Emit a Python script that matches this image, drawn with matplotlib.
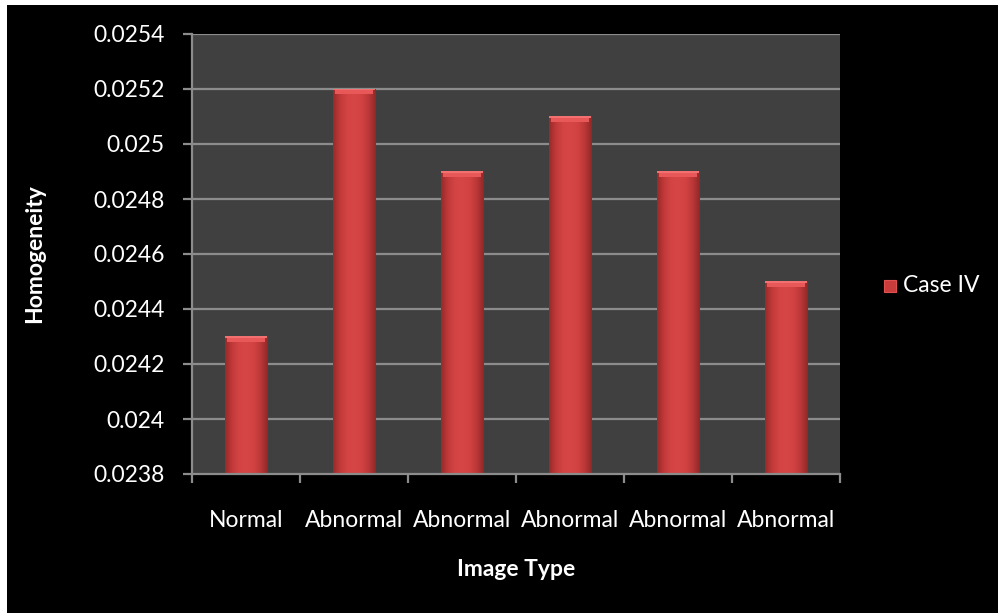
import matplotlib
matplotlib.use("Agg")
import matplotlib.pyplot as plt
import numpy as np
from matplotlib.patches import Rectangle
from matplotlib.colors import LinearSegmentedColormap

categories = ["Normal", "Abnormal", "Abnormal", "Abnormal", "Abnormal", "Abnormal"]
homogeneity = [0.0243, 0.0252, 0.0249, 0.0251, 0.0249, 0.0245]
y_ticks = [0.0238, 0.024, 0.0242, 0.0244, 0.0246, 0.0248, 0.025, 0.0252, 0.0254]
y_tick_labels = ["0.0238", "0.024", "0.0242", "0.0244", "0.0246", "0.0248", "0.025", "0.0252", "0.0254"]
series_name = "Case IV"

plt.rcParams["font.family"] = ["Lato", "DejaVu Sans"]
FS = 16.5

W, H = 998, 613
fig = plt.figure(figsize=(W / 100, H / 100), dpi=100, facecolor="white")
# black chart area with a thin white margin on the top and left
fig.patches.append(Rectangle((7 / W, 0), 1 - 7 / W, 1 - 5 / H, transform=fig.transFigure,
                             facecolor="black", edgecolor="none", zorder=-10))

left, right, top, bottom = 192, 840, 34, 474
ax = fig.add_axes([left / W, 1 - bottom / H, (right - left) / W, (bottom - top) / H])
ax.set_zorder(1)
ax.set_facecolor("#404040")

ymin, ymax = y_ticks[0], y_ticks[-1]
ax.set_ylim(ymin, ymax)
ax.set_xlim(-0.5, len(categories) - 0.5)

grid_c = "#8c8c8c"
for t in y_ticks[1:]:
    ax.axhline(t, color=grid_c, lw=1.6, zorder=1)

# bevelled red bars: horizontal shading, darker toward the sides
bar_w = 0.39
shade = LinearSegmentedColormap.from_list(
    "bar", ["#9a2a2a", "#c23a3a", "#d44444", "#d64646", "#d24242", "#bc3838", "#922828"])
grad = np.linspace(0, 1, 64).reshape(1, -1)
cap_h = (ymax - ymin) * 0.012
for i, v in enumerate(homogeneity):
    x0 = i - bar_w / 2
    ax.imshow(grad, cmap=shade, aspect="auto", extent=(x0, x0 + bar_w, ymin, v),
              zorder=2, interpolation="bilinear")
    ax.add_patch(Rectangle((x0 + bar_w * 0.06, v - cap_h), bar_w * 0.88, cap_h,
                           facecolor="#e85858", edgecolor="none", zorder=3))
    ax.add_patch(Rectangle((x0, v - cap_h * 0.25), bar_w, cap_h * 0.25,
                           facecolor="#f27070", edgecolor="none", zorder=3))

ax.set_yticks(y_ticks)
ax.set_yticklabels(y_tick_labels)
ax.set_xticks(range(len(categories)))
ax.set_xticklabels(categories)
ax.set_xticks(np.arange(-0.5, len(categories), 1.0), minor=True)
ax.tick_params(axis="x", which="major", length=0, pad=26, labelsize=FS, labelcolor="white")
ax.tick_params(axis="x", which="minor", length=6.5, width=1.6, color=grid_c, direction="out")
ax.tick_params(axis="y", length=6.5, width=1.6, color=grid_c, direction="out",
               labelsize=FS, labelcolor="white", pad=13)

for s in ["top", "right"]:
    ax.spines[s].set_visible(False)
for s in ["left", "bottom"]:
    ax.spines[s].set_color(grid_c)
    ax.spines[s].set_linewidth(1.6)
    ax.spines[s].set_zorder(4)

# axis titles
fig.text(516 / W, 1 - 570 / H, "Image Type", color="white", fontsize=FS, fontweight="bold",
         ha="center", va="center")
fig.text(35 / W, 1 - 254 / H, "Homogeneity", color="white", fontsize=FS, fontweight="bold",
         ha="center", va="center", rotation=90)

# legend entry
fig.patches.append(Rectangle((884 / W, 1 - 292 / H), 12 / W, 12 / H, transform=fig.transFigure,
                             facecolor="#c83c3c", edgecolor="#e05050", lw=0.8, zorder=5))
fig.text(903 / W, 1 - 285 / H, series_name, color="white", fontsize=FS, va="center", ha="left")

fig.savefig("out.png", dpi=100, facecolor="white")
